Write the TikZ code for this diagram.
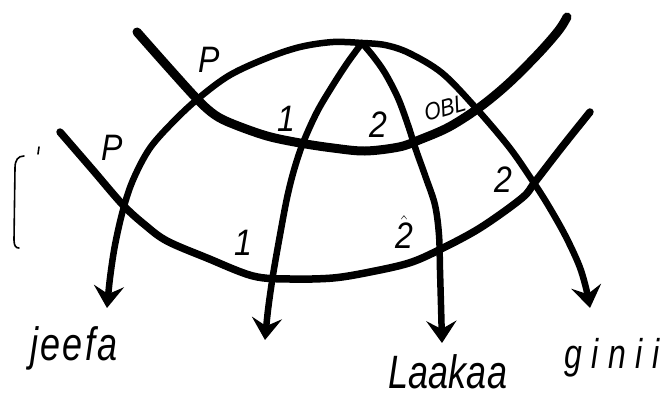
\documentclass[tikz,border=0pt]{standalone}
\usepackage{fontspec}
\setmainfont{Liberation Sans}
\usetikzlibrary{arrows.meta}
\begin{document}
\begin{tikzpicture}[x=1pt,y=-1pt,
  stratum/.style={line width=9pt, line cap=round, line join=round},
  arcline/.style={line width=6.5pt, line cap=round, -{Stealth[length=22pt,width=30pt,inset=8pt]}},
  lab/.style={font=\fontsize{32}{34}\selectfont\itshape, inner sep=0pt, yscale=1.15},
  word/.style={font=\fontsize{36}{40}\selectfont\itshape, inner sep=0pt, anchor=base, yscale=1.3},
  thinline/.style={line width=1.6pt, line cap=round}
]
\useasboundingbox (0,0) rectangle (665,397);

% named points
\coordinate (top) at (362,43);
\coordinate (eJ) at (107,308);
\coordinate (eA) at (265,340);
\coordinate (eL) at (442,343);
\coordinate (eG) at (590,308);
\coordinate (uS) at (137,32);
\coordinate (uE) at (567,17);
\coordinate (lS) at (60,132);
\coordinate (lE) at (590,112);

% strata
\draw[stratum] plot[smooth, tension=0.55] coordinates {(uS) (168,67) (198,100) (215,115) (233,124) (267,136) (300,143) (333,148) (365,151) (399,147) (419,140) (449,127) (480,107) (509,83) (539,53) (559,30) (uE)};
\draw[stratum, line width=7.5pt] plot[smooth, tension=0.55] coordinates {(lS) (92,169) (123,205) (145,225) (167,241) (207,258) (253,276) (290,279) (333,278) (370,272) (409,263) (439,250) (480,228) (522,198) (535,182) (562,147) (lE)};

% arcs
\draw[arcline] plot[smooth, tension=0.55] coordinates {(top) (333,42) (300,47) (267,58) (230,75) (200,97) (175,120) (150,148) (133,180) (123,210) (115,245) (110,278) (eJ)};
\draw[arcline] plot[smooth, tension=0.55] coordinates {(top) (385,45) (409,53) (442,73) (475,107) (509,147) (532,180) (548,205) (565,235) (579,265) (586,288) (eG)};
\draw[arcline] plot[smooth, tension=0.55] coordinates {(top) (348,62) (333,85) (317,112) (303,143) (294,170) (287,198) (280,235) (273,275) (268,310) (eA)};
\draw[arcline] plot[smooth, tension=0.55] coordinates {(top) (373,56) (385,73) (398,98) (408,125) (416,150) (426,178) (435,205) (439,235) (440,270) (441,305) (eL)};

% bracket
\draw[thinline] (24,156) .. controls (18,156) and (15,160) .. (15,168) -- (14,240) .. controls (14,246) and (16,248) .. (19,248);
\coordinate (tk1) at (39,147);
\coordinate (tk2) at (38,154);
\draw[thinline] (tk1) -- (tk2);

% labels
\node[lab] (pU) at (209,60) {P};
\node[lab] (pL) at (112,148) {P};
\node[lab] (oneU) at (286,119) {1};
\node[lab] (twoU) at (378,125) {2};
\node[lab, font=\fontsize{21}{22}\selectfont\itshape, rotate=14, yscale=1] (obl) at (445,108) {OBL};
\node[lab] (twoR) at (503,180) {2};
\node[lab] (oneL) at (243,243) {1};
\node[lab] (twoC) at (404,232) {$\hat{\textit{2}}$};

% words
\node[word] (jeefa) at (74,360) {\addfontfeature{LetterSpace=6}jeefa};
\node[word] (laakaa) at (448,388) {Laakaa};
\node[word, font=\fontsize{32}{36}\selectfont\itshape] (ginii) at (612,368) {\addfontfeature{LetterSpace=30}ginii};
\end{tikzpicture}
\end{document}
